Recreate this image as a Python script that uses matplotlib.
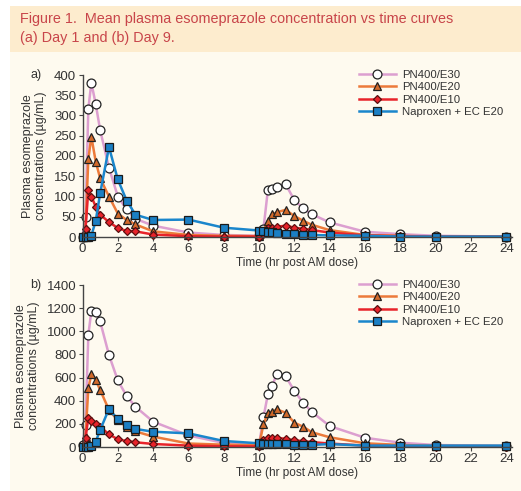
import matplotlib.pyplot as plt
from matplotlib.patches import Rectangle

plt.rcParams["font.family"] = ["Liberation Sans", "DejaVu Sans"]

# sampling times (h post AM dose)
t_am = [0, 0.17, 0.33, 0.5, 0.75, 1, 1.5, 2, 2.5, 3, 4, 6, 8, 10]
t_pm = [10.25, 10.5, 10.75, 11, 11.5, 12, 12.5, 13, 14, 16, 18, 20, 24]
times = t_am + t_pm

labels = ["PN400/E30", "PN400/E20", "PN400/E10", "Naproxen + EC E20"]

# Day 1
d1_e30 = [0, 50, 316, 381, 328, 264, 171, 100, 68, 45, 28, 11, 5, 3,
          20, 116, 118, 123, 131, 91, 71, 56, 36, 13, 7, 3, 1]
d1_e20 = [0, 20, 192, 248, 186, 145, 100, 58, 42, 31, 14, 5, 3, 2,
          15, 40, 56, 61, 67, 52, 40, 30, 17, 5, 3, 1, 1]
d1_e10 = [0, 20, 116, 100, 75, 55, 37, 22, 15, 14, 6, 2, 1, 1,
          8, 21, 23, 25, 28, 23, 20, 17, 11, 4, 2, 1, 1]
d1_nap = [0, 0, 0, 3, 40, 108, 222, 142, 90, 55, 42, 43, 23, 16,
          14, 13, 12, 10, 8, 7, 5, 5, 4, 3, 1, 1, 1]

# Day 9
d9_e30 = [15, 190, 968, 1175, 1164, 1085, 795, 575, 441, 348, 219, 100, 35, 20,
          256, 455, 527, 631, 614, 484, 383, 302, 181, 80, 37, 17, 10]
d9_e20 = [10, 90, 507, 628, 579, 493, 320, 230, 175, 135, 90, 30, 20, 15,
          195, 297, 305, 325, 297, 210, 175, 127, 84, 32, 18, 10, 8]
d9_e10 = [5, 75, 253, 225, 199, 175, 110, 66, 52, 41, 26, 12, 6, 5,
          60, 78, 80, 80, 70, 58, 50, 42, 30, 12, 7, 4, 3]
d9_nap = [0, 0, 0, 10, 46, 147, 330, 239, 190, 156, 132, 118, 52, 32,
          25, 25, 25, 27, 23, 20, 18, 18, 25, 12, 12, 12, 12]

styles = [
    dict(color="#dc9fd0", marker="o", mfc="white", mec="#222222", ms=6.4),
    dict(color="#ec7a3a", marker="^", mfc="#d2692a", mec="#222222", ms=6.4),
    dict(color="#e8232a", marker="D", mfc="#e8232a", mec="#5a1010", ms=4.3),
    dict(color="#1a86cc", marker="s", mfc="#1b7fc4", mec="#1a1a1a", ms=6.4),
]

BG = "#fefaef"
TXT = "#333333"

fig = plt.figure(figsize=(5.21, 4.91), dpi=100)
fig.patch.set_facecolor("white")
fig.add_artist(Rectangle((10 / 521, 0), 1, 1 - 52 / 491, transform=fig.transFigure,
                         facecolor=BG, edgecolor="none", zorder=-10))
fig.add_artist(Rectangle((10 / 521, 1 - 52 / 491), 1, 46 / 491, transform=fig.transFigure,
                         facecolor="#fdecce", edgecolor="none", zorder=-10))
fig.text(20 / 521, 1 - 19 / 491, "Figure 1.  Mean plasma esomeprazole concentration vs time curves",
         color="#c8454a", fontsize=10.4, va="center", ha="left")
fig.text(20 / 521, 1 - 38 / 491, "(a) Day 1 and (b) Day 9.",
         color="#c8454a", fontsize=10.4, va="center", ha="left")

panels = [
    ("a)", [d1_e30, d1_e20, d1_e10, d1_nap], 400, range(0, 401, 50), 237),
    ("b)", [d9_e30, d9_e20, d9_e10, d9_nap], 1400, range(0, 1401, 200), 447),
]

for tag, series, ymax, yticks, ybot in panels:
    ax = fig.add_axes([82.5 / 521, 1 - ybot / 491, 429 / 521, 162 / 491])
    ax.set_facecolor("none")
    for vals, lab, st in zip(series, labels, styles):
        ax.plot(times, vals, label=lab, lw=1.8, mew=0.9, clip_on=False, **st)
    ax.set_xlim(0, 24.3)
    ax.set_ylim(0, ymax)
    ax.set_xticks(range(0, 25, 2))
    ax.set_yticks(list(yticks))
    for s in ["top", "right"]:
        ax.spines[s].set_visible(False)
    for s in ["left", "bottom"]:
        ax.spines[s].set_color("#444444")
        ax.spines[s].set_linewidth(1.0)
    ax.tick_params(labelsize=9.5, colors="#444444", labelcolor=TXT, length=3, pad=1.5)
    ax.set_xlabel("Time (hr post AM dose)", fontsize=8.5, color=TXT, labelpad=1)
    ax.set_ylabel("Plasma esomeprazole\nconcentrations (\u00b5g/mL)", fontsize=9,
                  color=TXT, labelpad=5, linespacing=1.1)
    ax.text(-52 / 429, 1.0, tag, transform=ax.transAxes, fontsize=9, color=TXT,
            va="center", ha="left")
    ax.legend(loc="upper right", bbox_to_anchor=(0.995, 1.065), frameon=False, fontsize=8.2,
              handlelength=3.2, handletextpad=0.6, labelspacing=0.2, borderpad=0,
              labelcolor=TXT)

fig.savefig("out.png", dpi=100, facecolor=fig.get_facecolor())
